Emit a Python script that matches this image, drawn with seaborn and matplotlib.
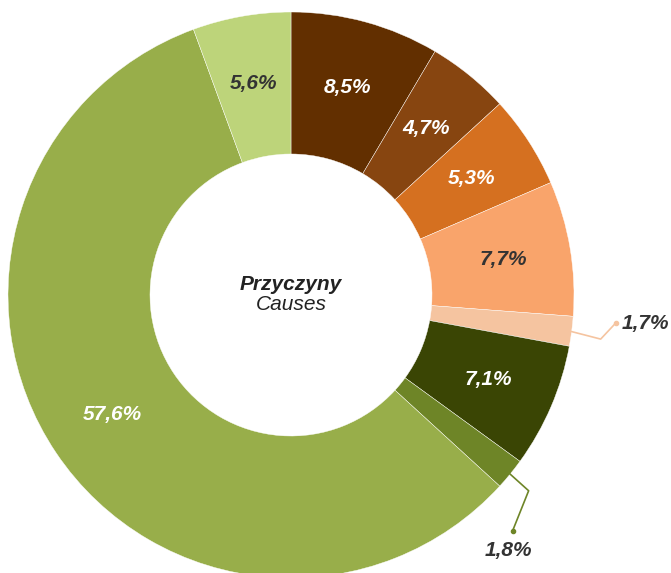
import numpy as np
import seaborn as sns
import matplotlib
matplotlib.use("Agg")
import matplotlib.pyplot as plt

sns.set_theme(style="white")
plt.rcParams['font.family'] = ['Liberation Sans', 'DejaVu Sans']

# data, clockwise from 12 o'clock
shares = [8.5, 4.7, 5.3, 7.7, 1.7, 7.1, 1.8, 57.6, 5.6]
labels = ['8,5%', '4,7%', '5,3%', '7,7%', '1,7%', '7,1%', '1,8%', '57,6%', '5,6%']
colors = ['#622F00', '#874510', '#D57020', '#F9A46B', '#F5C4A0',
          '#3A4504', '#6E8527', '#98AE4A', '#BDD47A']
label_colors = ['white', 'white', 'white', '#333333', '#333333',
                'white', '#333333', 'white', '#333333']
outside = [False, False, False, False, True, False, True, False, False]

W, H = 671, 573
cx, cy = 291, H - 295
R, r_in = 283, 141

fig = plt.figure(figsize=(W / 100, H / 100), dpi=100)
ax = fig.add_axes([0, 0, 1, 1])

wedges, _ = ax.pie(shares, colors=sns.color_palette(colors), startangle=90,
                   counterclock=False, radius=R, center=(cx, cy),
                   wedgeprops=dict(width=R - r_in, edgecolor='white', linewidth=0.3))
ax.set_xlim(0, W)
ax.set_ylim(0, H)
ax.set_aspect('equal')
ax.axis('off')

# leader line offsets (from outer edge of wedge) for the small slices
leaders = {4: [(31, -8), (46, 8)], 6: [(20, -18), (4, -58)]}
text_off = {4: (52, 8, 'left', 'center'), 6: (0, -78, 'center', 'center')}

for i, w in enumerate(wedges):
    ang = np.deg2rad((w.theta1 + w.theta2) / 2)
    if not outside[i]:
        rr = (R + r_in) / 2 + 3
        ax.text(cx + rr * np.cos(ang), cy + rr * np.sin(ang), labels[i],
                ha='center', va='center', fontsize=15, fontweight='bold',
                fontstyle='italic', color=label_colors[i])
    else:
        x0, y0 = cx + (R - 2) * np.cos(ang), cy + (R - 2) * np.sin(ang)
        xs = [x0] + [x0 + dx for dx, dy in leaders[i]]
        ys = [y0] + [y0 + dy for dx, dy in leaders[i]]
        ax.plot(xs, ys, color=colors[i], lw=1.2)
        ax.plot(xs[-1], ys[-1], 'o', color=colors[i], ms=3)
        dx, dy, ha, va = text_off[i]
        ax.text(x0 + dx, y0 + dy, labels[i], ha=ha, va=va, fontsize=15,
                fontweight='bold', fontstyle='italic', color=label_colors[i])

ax.text(cx, cy + 10, 'Przyczyny', ha='center', va='center', fontsize=15,
        fontweight='bold', fontstyle='italic', color='#222222')
ax.text(cx, cy - 10, 'Causes', ha='center', va='center', fontsize=15,
        fontstyle='italic', color='#222222')

fig.savefig('out.png', dpi=100)
